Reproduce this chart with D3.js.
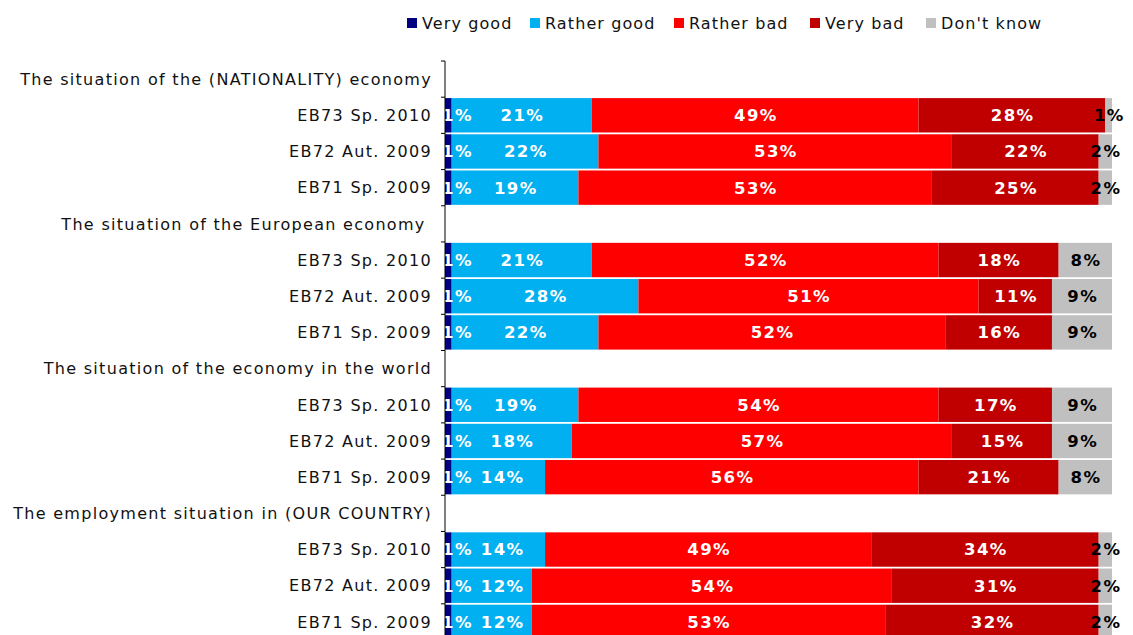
<!DOCTYPE html>
<html>
<head>
<meta charset="utf-8">
<script src="https://cdn.jsdelivr.net/npm/d3@7"></script>
<style>
  body { margin: 0; background: #fff; }
  text { font-family: "DejaVu Sans", Verdana, sans-serif; }
</style>
</head>
<body>
<div id="chart"></div>
<script>
// Answer categories (legend order = stack order)
var answers = ["Very good", "Rather good", "Rather bad", "Very bad", "Don't know"];
var colors = ["#000080", "#00b0f0", "#ff0000", "#c00000", "#c0c0c0"];

// Groups and waves
var groups = [
  "The situation of the (NATIONALITY) economy",
  "The situation of the European economy ",
  "The situation of the economy in the world",
  "The employment situation in (OUR COUNTRY)"
];
var waves = ["EB73 Sp. 2010", "EB72 Aut. 2009", "EB71 Sp. 2009"];

// Values per group, one row per wave: very good, rather good, rather bad, very bad, don't know
var nationalEconomy = [[1, 21, 49, 28, 1], [1, 22, 53, 22, 2], [1, 19, 53, 25, 2]];
var europeanEconomy = [[1, 21, 52, 18, 8], [1, 28, 51, 11, 9], [1, 22, 52, 16, 9]];
var worldEconomy    = [[1, 19, 54, 17, 9], [1, 18, 57, 15, 9], [1, 14, 56, 21, 8]];
var employment      = [[1, 14, 49, 34, 2], [1, 12, 54, 31, 2], [1, 12, 53, 32, 2]];

var groupValues = [nationalEconomy, europeanEconomy, worldEconomy, employment];

// Build rows: one header slot then the three waves for each group
var rows = [];
groups.forEach(function(g, gi) {
  rows.push({ key: "h" + gi, label: g, header: true });
  waves.forEach(function(w, wi) {
    rows.push({ key: "r" + gi + "_" + wi, label: w, header: false, values: groupValues[gi][wi] });
  });
});

var width = 1133, height = 635;

var svg = d3.select("#chart")
  .append("svg")
  .attr("width", width)
  .attr("height", height);

var x = d3.scaleLinear()
  .domain([0, 100])
  .range([445, 1112]);

var y = d3.scaleBand()
  .domain(rows.map(function(d) { return d.key; }))
  .range([61, 640])
  .paddingInner(0.05)
  .paddingOuter(0.025);

var slot = y.step();

// Stacked segments
var stackRows = rows.filter(function(d) { return !d.header; });

stackRows.forEach(function(row) {
  var start = 0;
  var segs = row.values.map(function(v, i) {
    var s = { x0: start, x1: start + v, v: v, i: i };
    start += v;
    return s;
  });

  var g = svg.append("g");

  g.selectAll("rect")
    .data(segs)
    .enter()
    .append("rect")
    .attr("x", function(d) { return x(d.x0); })
    .attr("width", function(d) { return x(d.x1) - x(d.x0); })
    .attr("y", y(row.key))
    .attr("height", y.bandwidth())
    .attr("fill", function(d) { return colors[d.i]; });

  // labels, nudged right when they would run into the previous one
  var prevRight = x(0) - 3;
  g.selectAll("text")
    .data(segs)
    .enter()
    .append("text")
    .attr("x", function(d) { return (x(d.x0) + x(d.x1)) / 2 + 0.7; })
    .attr("y", y(row.key) + y.bandwidth() / 2)
    .attr("dy", "0.36em")
    .attr("text-anchor", "middle")
    .attr("font-size", 16.5)
    .attr("font-weight", "bold")
    .attr("letter-spacing", 1.4)
    .attr("fill", function(d) { return d.i == 4 ? "#000" : "#fff"; })
    .text(function(d) { return d.v + "%"; })
    .each(function(d) {
      var w = this.getComputedTextLength();
      var cx = +d3.select(this).attr("x");
      var minLeft = d.i == 0 ? prevRight : prevRight + 8;
      if (d.i < 4 && cx - w / 2 < minLeft) {
        cx = minLeft + w / 2;
        d3.select(this).attr("x", cx);
      }
      prevRight = cx + w / 2;
    });
});

// Left axis: line and ticks at the slot boundaries
var axis = svg.append("g");
axis.append("line")
  .attr("x1", x(0)).attr("x2", x(0))
  .attr("y1", y.range()[0]).attr("y2", y.range()[1])
  .attr("stroke", "#000")
  .attr("stroke-width", 1);

axis.selectAll(".tick")
  .data(d3.range(rows.length + 1))
  .enter()
  .append("line")
  .attr("x1", x(0) - 4).attr("x2", x(0))
  .attr("y1", function(k) { return y.range()[0] + k * slot; })
  .attr("y2", function(k) { return y.range()[0] + k * slot; })
  .attr("stroke", "#000");

// Row labels
svg.append("g")
  .selectAll("text")
  .data(rows)
  .enter()
  .append("text")
  .attr("x", x(0) - 13)
  .attr("y", function(d) { return y(d.key) + y.bandwidth() / 2; })
  .attr("dy", "0.36em")
  .attr("text-anchor", "end")
  .attr("font-size", 16)
  .attr("letter-spacing", 1.3)
  .attr("fill", "#111")
  .style("white-space", "pre")
  .text(function(d) { return d.label; });

// Legend
var legendX = [407, 530, 674, 810, 926];
var legend = svg.append("g");
answers.forEach(function(a, i) {
  legend.append("rect")
    .attr("x", legendX[i])
    .attr("y", 18)
    .attr("width", 10)
    .attr("height", 10)
    .attr("fill", colors[i]);
  legend.append("text")
    .attr("x", legendX[i] + 15)
    .attr("y", 23)
    .attr("dy", "0.36em")
    .attr("font-size", 16)
    .attr("letter-spacing", 1.1)
    .attr("fill", "#111")
    .text(a);
});
</script>
</body>
</html>
